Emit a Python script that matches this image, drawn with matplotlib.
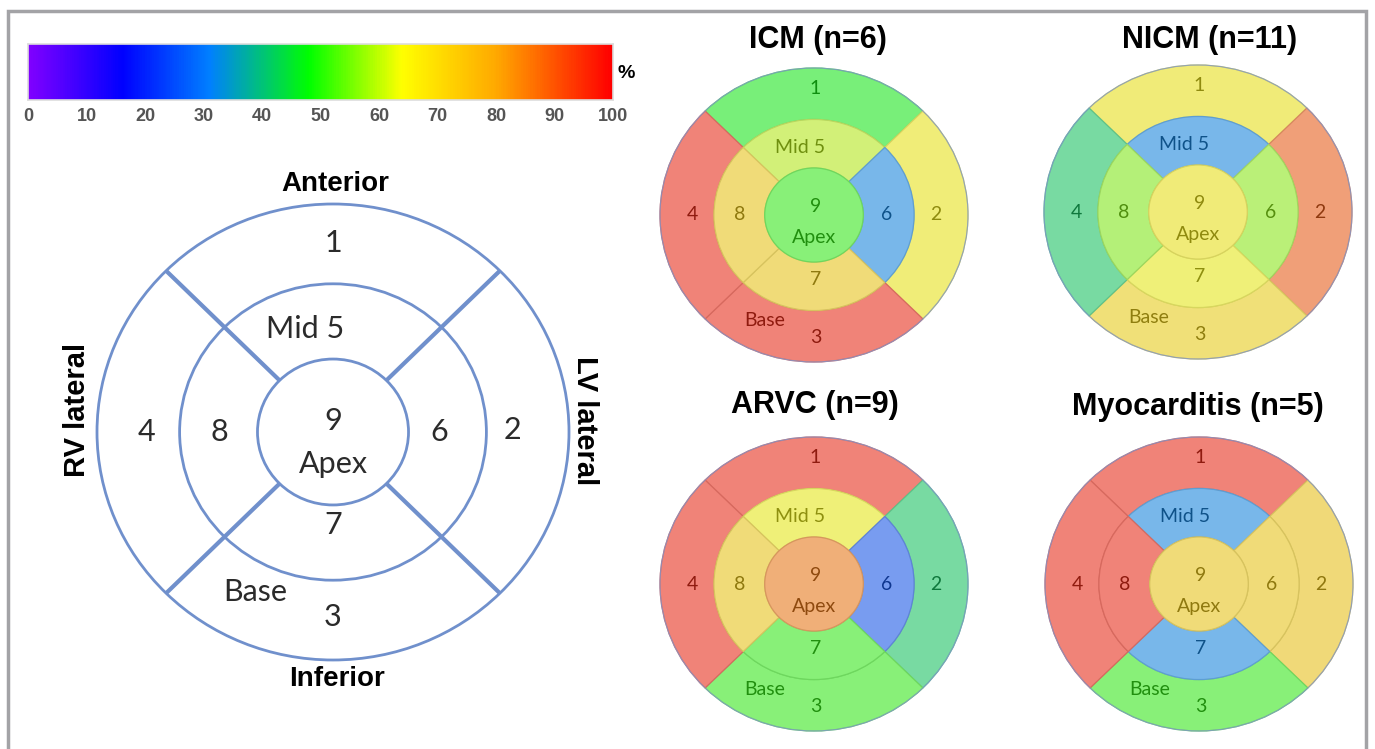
import numpy as np
import matplotlib
matplotlib.use('Agg')
import matplotlib.pyplot as plt
from matplotlib.colors import LinearSegmentedColormap
from matplotlib.patches import Wedge, Ellipse, Rectangle

W, H = 1375, 749

# percentage colour scale
cbar_ticks = [0, 10, 20, 30, 40, 50, 60, 70, 80, 90, 100]
cbar_stops = [0, 16, 31, 48, 64, 80, 100]
cbar_colors = ['#8000ff', '#0000ff', '#0080ff', '#00ff00', '#ffff00', '#ffaa00', '#ff0000']

# segments: outer ring 1-4, mid ring 5-8, apex 9
segments = [1, 2, 3, 4, 5, 6, 7, 8, 9]
groups = ['ICM (n=6)', 'NICM (n=11)', 'ARVC (n=9)', 'Myocarditis (n=5)']
icm = [48, 65, 97, 97, 60, 32, 72, 72, 50]
nicm = [66, 90, 70, 42, 32, 57, 64, 56, 66]
arvc = [97, 42, 50, 97, 64, 25, 50, 72, 86]
myocarditis = [97, 73, 50, 97, 32, 72, 32, 97, 72]

cmap = LinearSegmentedColormap.from_list(
    'pct', [(s / 100, c) for s, c in zip(cbar_stops, cbar_colors)])

R_OUT, R_MID, R_APEX = 1.0, 0.65, 0.32
ANGLES = {1: (45, 135), 2: (-45, 45), 3: (225, 315), 4: (135, 225)}
# text spots inside each segment (unit circle coords), small maps
LABELS = {1: ('1', 0.01, 0.86), 2: ('2', 0.79, 0.0), 3: ('3', 0.01, -0.83),
          4: ('4', -0.79, 0.0), 5: ('Mid 5', -0.09, 0.46), 6: ('6', 0.47, 0.0),
          7: ('7', 0.01, -0.44), 8: ('8', -0.48, 0.0), 9: ('9', 0.01, 0.06)}
EXTRA = [('Base', -0.32, -0.72, 3), ('Apex', 0.0, -0.15, 9)]
# the large key diagram sits its labels a little closer in
KEY_LABELS = {1: ('1', 0.0, 0.83), 2: ('2', 0.76, 0.01), 3: ('3', 0.0, -0.81),
              4: ('4', -0.79, 0.0), 5: ('Mid 5', -0.12, 0.45), 6: ('6', 0.45, 0.0),
              7: ('7', 0.0, -0.41), 8: ('8', -0.48, 0.0), 9: ('9', 0.0, 0.05)}
KEY_EXTRA = [('Base', -0.33, -0.70), ('Apex', 0.0, -0.14)]

SEG_FONT = 'Lato'
HEAD_FONT = 'Liberation Sans'


def fx(x):
    return x / W


def fy(y):
    return 1 - y / H


def tint(v):
    c = np.array(cmap(v / 100)[:3])
    return 0.94 * (0.5 * c + 0.5)


def ink(v):
    c = np.array(cmap(v / 100)[:3])
    return 0.5 * c + 0.06


def bullseye_axes(cx, cy, rx, ry, pad=1.06):
    ax = fig.add_axes([fx(cx - rx * pad), fy(cy + ry * pad),
                       2 * rx * pad / W, 2 * ry * pad / H])
    ax.set_xlim(-pad, pad)
    ax.set_ylim(-pad, pad)
    ax.set_aspect('auto')
    ax.axis('off')
    return ax


def draw_colored(ax, vals, fs):
    for seg in segments:
        v = vals[seg - 1]
        fc = tint(v)
        ec = 0.75 * fc + 0.25 * ink(v)
        if seg <= 4:
            t1, t2 = ANGLES[seg]
            p = Wedge((0, 0), R_OUT, t1, t2, width=R_OUT - R_MID)
        elif seg <= 8:
            t1, t2 = ANGLES[seg - 4]
            p = Wedge((0, 0), R_MID, t1, t2, width=R_MID - R_APEX)
        else:
            p = Ellipse((0, 0), 2 * R_APEX, 2 * R_APEX)
        p.set_facecolor(fc)
        p.set_edgecolor(ec)
        p.set_linewidth(0.9)
        ax.add_patch(p)
    ax.add_patch(Ellipse((0, 0), 2 * R_OUT, 2 * R_OUT, fill=False,
                         ec='#8096cc', lw=0.8, alpha=0.8))
    for seg, (txt, x, y) in LABELS.items():
        ax.text(x, y, txt, ha='center', va='center', fontsize=fs,
                family=SEG_FONT, color=ink(vals[seg - 1]))
    for txt, x, y, seg in EXTRA:
        ax.text(x, y, txt, ha='center', va='center', fontsize=fs,
                family=SEG_FONT, color=ink(vals[seg - 1]))


fig = plt.figure(figsize=(W / 100, H / 100), dpi=100)

# grey frame
fig.add_artist(Rectangle((fx(8), -0.05), fx(1366) - fx(8), fy(11) + 0.05,
                         transform=fig.transFigure, fill=False,
                         ec='#a3a3a6', lw=2.5))

# colour bar
cax = fig.add_axes([fx(28), fy(100), (613 - 28) / W, 56 / H])
cax.imshow(np.linspace(0, 100, 600)[None, :], cmap=cmap, aspect='auto',
           extent=[0, 100, 0, 1], vmin=0, vmax=100)
cax.set_xticks(cbar_ticks)
cax.set_xticklabels([str(t) for t in cbar_ticks], fontsize=13,
                    fontweight='bold', color='#555555', family=HEAD_FONT)
cax.set_yticks([])
cax.tick_params(axis='x', length=0, pad=6)
for s in cax.spines.values():
    s.set_color('#dddddd')
    s.set_linewidth(1.2)
fig.text(fx(626), fy(74), '%', fontsize=14, fontweight='bold',
         family=HEAD_FONT, ha='center', va='center')

# key diagram
line_c = '#7090cc'
bx = bullseye_axes(333, 432, 236, 228)
for r in (R_OUT, R_MID, R_APEX):
    bx.add_patch(Ellipse((0, 0), 2 * r, 2 * r, fill=False, ec=line_c, lw=2))
for a in (45, 135, 225, 315):
    t = np.deg2rad(a)
    bx.plot([R_APEX * np.cos(t), R_OUT * np.cos(t)],
            [R_APEX * np.sin(t), R_OUT * np.sin(t)], color=line_c, lw=3,
            solid_capstyle='butt')
for seg, (txt, x, y) in KEY_LABELS.items():
    bx.text(x, y, txt, ha='center', va='center', fontsize=22,
            family=SEG_FONT, color='#2b2b2b')
for txt, x, y in KEY_EXTRA:
    bx.text(x, y, txt, ha='center', va='center', fontsize=22,
            family=SEG_FONT, color='#2b2b2b')

fig.text(fx(335), fy(184), 'Anterior', fontsize=20, fontweight='bold',
         family=HEAD_FONT, ha='center', va='center')
fig.text(fx(337), fy(679), 'Inferior', fontsize=20, fontweight='bold',
         family=HEAD_FONT, ha='center', va='center')
fig.text(fx(77), fy(410), 'RV lateral', fontsize=21, fontweight='bold',
         family=HEAD_FONT, ha='center', va='center', rotation=90)
fig.text(fx(585), fy(421), 'LV lateral', fontsize=21, fontweight='bold',
         family=HEAD_FONT, ha='center', va='center', rotation=270)

# group maps
centers = [(814, 215), (1198, 212), (814, 584), (1199, 584)]
title_pos = [(818, 40), (1210, 40), (815, 405), (1198, 407)]
for vals, name, (cx, cy), (tx, ty) in zip([icm, nicm, arvc, myocarditis],
                                          groups, centers, title_pos):
    ax = bullseye_axes(cx, cy, 154, 147)
    draw_colored(ax, vals, 14)
    fig.text(fx(tx), fy(ty), name, fontsize=22, fontweight='bold',
             family=HEAD_FONT, ha='center', va='center')

fig.savefig('out.png', dpi=100)
